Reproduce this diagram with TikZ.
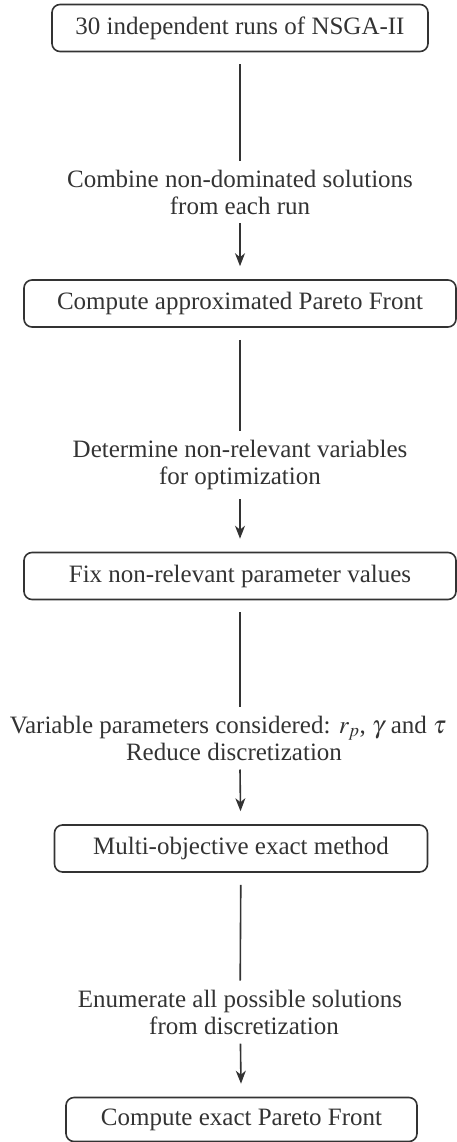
\documentclass[tikz,border=0pt]{standalone}
\usepackage{mathptmx}
\usepackage[no-math]{fontspec}
\setmainfont{Liberation Serif}
\usetikzlibrary{arrows.meta}
\definecolor{ink}{HTML}{333333}
\tikzset{
  stage/.style={draw=ink,line width=1.6pt,rounded corners=8pt,minimum height=47pt,text=ink},
  note/.style={align=center,inner sep=9pt,text=ink},
  flow/.style={draw=ink,line width=1.6pt,shorten <=12pt},
  flowarr/.style={draw=ink,line width=1.6pt,-{Stealth[length=13pt,width=10pt,inset=4pt]},shorten >=13pt}
}
\begin{document}
\begin{tikzpicture}[x=1pt,y=-1pt,font=\fontsize{25}{27}\selectfont]
	\useasboundingbox (0,0) rectangle (457,1142);
	%STAGES
	\node[stage,minimum width=376pt] (runs) at (240,28) {30 independent runs of NSGA-II};
	\node[stage,minimum width=432pt] (apf) at (240,303.5) {Compute approximated Pareto Front};
	\node[stage,minimum width=432pt] (fix) at (240,576) {Fix non-relevant parameter values};
	\node[stage,minimum width=373pt] (exact) at (241,848.5) {Multi-objective exact method};
	\node[stage,minimum width=351pt,minimum height=44pt] (epf) at (241.5,1119.5) {Compute exact Pareto Front};
	
	%NOTES
	\node[note] (combine) at (240,192) {Combine non-dominated solutions\\from each run};
	\node[note] (determine) at (240,465) {Determine non-relevant variables\\for optimization};
	\node[note] (reduce) at (228,738) {Variable parameters considered: $r_p$,~$\gamma$ and~$\tau$\\\hspace*{12pt}Reduce discretization};
	\node[note] (enumerate) at (240,1012) {Enumerate all possible solutions\\\hspace*{8pt}from discretization};
	
	%FLOW
	\draw[flow] (runs) -- (combine);
	\draw[flowarr] (combine) -- (apf);
	\draw[flow] (apf) -- (determine);
	\draw[flowarr] (determine) -- (fix);
	\draw[flow] (fix.south) -- (fix.south |- reduce.north);
	\draw[flowarr] (fix.south |- reduce.south) -- (exact);
	\draw[flow] (exact) -- (enumerate);
	\draw[flowarr] (enumerate) -- (epf);
\end{tikzpicture}
\end{document}
